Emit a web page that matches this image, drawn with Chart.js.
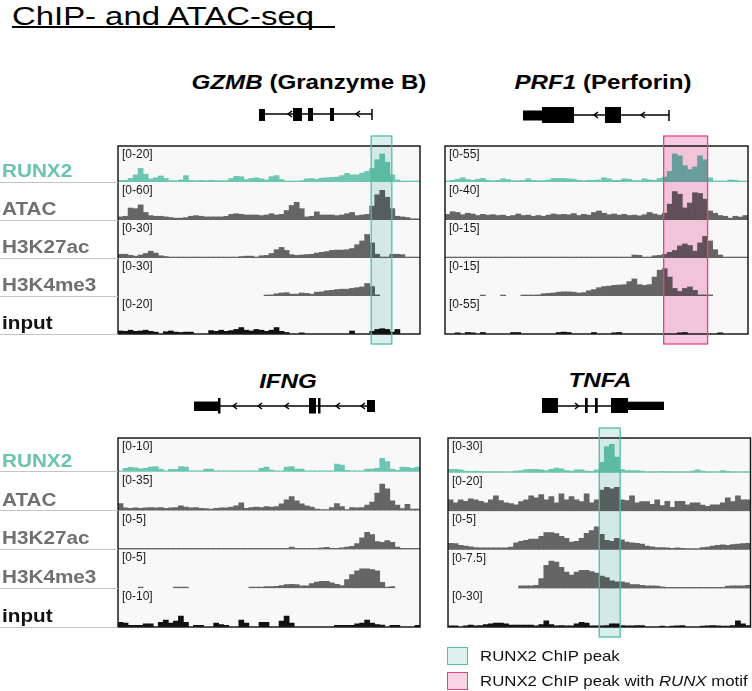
<!DOCTYPE html>
<html>
<head>
<meta charset="utf-8">
<script src="https://cdn.jsdelivr.net/npm/chart.js@4.4.1/dist/chart.umd.min.js"></script>
<style>
  body { margin: 0; background: #fff; font-family: Arial, "Liberation Sans", sans-serif; }
  #fig { position: relative; width: 752px; height: 691px; overflow: hidden; }
  .abs { position: absolute; }
  .wide { white-space: nowrap; transform-origin: 0 50%; transform: scaleX(1.15); }
  .title { position: absolute; width: 320px; text-align: center; font-weight: bold; font-size: 21px;
           line-height: 24px; white-space: nowrap; transform: scaleX(1.15); }
  .trk { position: absolute; left: 2px; font-weight: bold; font-size: 18px; line-height: 18px;
         white-space: nowrap; transform-origin: 0 50%; transform: scaleX(1.15); }
  .rng { position: absolute; font-size: 12px; line-height: 13px; color: #1a1a1a; white-space: nowrap; }
  .sep { position: absolute; left: 0; height: 1px; background: #c4c4c4; }
</style>
</head>
<body>
<div id="fig">
  <div class="abs wide" style="left:12px;top:0px;font-size:26.5px;line-height:32px;transform:scaleX(1.24);">ChIP- and ATAC-seq</div>
  <div class="abs" style="left:12px;top:26px;width:323px;height:1.5px;background:#000;"></div>

  <div class="title" style="left:149px;top:70px;"><i>GZMB</i> (Granzyme B)</div>
  <div class="title" style="left:443px;top:70px;"><i>PRF1</i> (Perforin)</div>
  <div class="title" style="left:128px;top:369px;"><i>IFNG</i></div>
  <div class="title" style="left:440px;top:368px;"><i>TNFA</i></div>

  <svg class="abs" style="left:0;top:0" width="752" height="691">
    <g fill="#000" stroke="#000" stroke-width="1.5">
      <!-- GZMB -->
      <line x1="262" y1="114" x2="372" y2="114"/>
      <rect x="259" y="109" width="6" height="12" stroke="none"/>
      <polyline points="292,111 288,114 292,117" fill="none"/>
      <rect x="293" y="108" width="9" height="13" stroke="none"/>
      <rect x="308" y="108" width="5" height="13" stroke="none"/>
      <rect x="330" y="108" width="4" height="13" stroke="none"/>
      <polyline points="360,111 356,114 360,117" fill="none"/>
      <line x1="372" y1="109" x2="372" y2="120"/>
      <!-- PRF1 -->
      <line x1="560" y1="115" x2="669" y2="115"/>
      <rect x="523" y="110.5" width="20" height="10" stroke="none"/>
      <rect x="542" y="107" width="32" height="16" stroke="none"/>
      <polyline points="598,112 594,115 598,118" fill="none"/>
      <rect x="605" y="107" width="16" height="16" stroke="none"/>
      <polyline points="645,112 641,115 645,118" fill="none"/>
      <line x1="669" y1="110" x2="669" y2="121"/>
      <!-- IFNG -->
      <line x1="200" y1="406" x2="372" y2="406"/>
      <rect x="194" y="401.5" width="24" height="9.5" stroke="none"/>
      <rect x="218" y="398" width="2.5" height="15.5" stroke="none"/>
      <polyline points="237,403 233,406 237,409" fill="none"/>
      <polyline points="262,403 258,406 262,409" fill="none"/>
      <polyline points="289,403 285,406 289,409" fill="none"/>
      <rect x="309" y="398" width="7" height="15.5" stroke="none"/>
      <rect x="318" y="398" width="2.5" height="15.5" stroke="none"/>
      <polyline points="340,403 336,406 340,409" fill="none"/>
      <polyline points="365,403 361,406 365,409" fill="none"/>
      <rect x="367" y="400" width="8" height="12" stroke="none"/>
      <!-- TNFA -->
      <line x1="556" y1="406" x2="640" y2="406"/>
      <rect x="542" y="398" width="16" height="15" stroke="none"/>
      <polyline points="575,403 578.5,406 575,409" fill="none"/>
      <rect x="585" y="398" width="2.7" height="15" stroke="none"/>
      <rect x="595" y="398" width="2.7" height="15" stroke="none"/>
      <rect x="611" y="398" width="17" height="15" stroke="none"/>
      <rect x="628" y="401.7" width="36" height="8.3" stroke="none"/>
    </g>
  </svg>

  <div id="p1" class="abs" style="left:108px;top:126px;"><canvas id="c1" width="322" height="230"></canvas></div>
  <div id="p2" class="abs" style="left:435px;top:126px;"><canvas id="c2" width="317" height="230"></canvas></div>
  <div id="p3" class="abs" style="left:108px;top:418px;"><canvas id="c3" width="322" height="230"></canvas></div>
  <div id="p4" class="abs" style="left:438px;top:418px;"><canvas id="c4" width="314" height="230"></canvas></div>

  <div class="abs" style="left:447px;top:647px;width:19px;height:16px;background:#def1ee;border:1.5px solid #55bda4;"></div>
  <div class="abs wide" style="left:480px;top:646px;font-size:15px;line-height:20px;color:#111;transform:scaleX(1.12);">RUNX2 ChIP peak</div>
  <div class="abs" style="left:447px;top:672px;width:19px;height:16px;background:#fad5e5;border:1.5px solid #e6447f;"></div>
  <div class="abs wide" style="left:480px;top:671px;font-size:15px;line-height:20px;color:#111;transform:scaleX(1.12);">RUNX2 ChIP peak with <i>RUNX</i> motif</div>
</div>

<script>
// genomic bins (60 per locus)
const bins = Array.from({length: 60}, (_, i) => i);
const trackNames = ['RUNX2', 'ATAC', 'H3K27ac', 'H3K4me3', 'input'];
const trackColors = ['#6cc6b1', '#656565', '#656565', '#656565', '#111111'];
const nameColors = ['#6cc4ae', '#707070', '#707070', '#707070', '#111111'];

// GZMB locus
const gzmbRanges = [20, 60, 30, 30, 20];
const gzmbRunx2 = [1,1,2,4,7.6,4.4,1.8,2.4,3.4,2, 0.8,0.8,1.2,3.6,1,0.8,1,0.8,1,0.8,
  0.8,0.8,2,3.2,3,1.4,2,2.4,1.8,1.2, 3,3.6,1.4,0.6,0.6,0.6,0.8,1.8,2,1.6,
  2.2,2.4,2.6,2.8,3.6,4.8,4,4,5,6, 7.6,12.4,15.6,11,4,1.2,0.6,0.6,0.6,0.6];
const gzmbAtac = [5,6,19,18,24,12,7,6,6,5, 4,3,3,4,6,7,6,5,5,5,
  5,6,9,10,9,8,8,8,7,8, 10,8,9,15,23,28,18,5,6,13,
  8,8,8,7,8,10,12,7,8,9, 22,40,47,36,18,6,5,4,2,2];
const gzmbK27ac = [3,3,2.1,1.5,2.4,3.6,5.4,3.9,1.8,1.2, 0.3,0.3,0.3,0.3,0.3,0.3,0.3,0.3,0.3,0.3,
  0.3,0.3,0.3,0.3,1.2,1.5,1.5,0.3,1.8,2.1, 3.6,6.6,8.4,6,2.7,2.1,2.4,2.7,3,3.9,
  4.5,5.1,6,6.3,6.3,6.6,7.5,10.5,13.5,18.6, 12,3,0.6,0.6,3,3,2.7,0.3,0.3,0.3];
const gzmbK4me3 = [null,null,null,null,null,null,null,null,null,null, null,null,null,null,null,null,null,null,null,null,
  null,null,null,null,null,null,null,null,null,0.6, 0.9,1.8,2.4,2.7,1.5,1.5,2.4,2.1,1.5,3,
  3.3,4.2,4.5,5.1,5.4,5.4,6,6.6,7.2,9.9, 7.5,0.9,null,null,null,null,null,null,null,null];
const gzmbInput = [1.6,1.4,2,1.4,1.6,2,1.4,1,null,1.2, 1.6,1,0.8,1,1,null,null,null,1.8,1.4,
  2,1.4,1.8,2.4,3.4,2,1.6,2.4,2,1.4, 2,3.4,1.4,0.8,null,null,0.6,null,null,null,
  null,null,null,null,null,null,1.6,null,null,null, 1.4,2.4,2.8,2.4,1,2.4,null,null,null,null];
const gzmbPeak = [50.3, 54.4];

// PRF1 locus
const prf1Ranges = [55, 40, 15, 15, 55];
const prf1Runx2 = [1.7,2.8,4.4,6.6,3.9,2.8,4.4,5.5,2.8,2.2, 2.8,5,3.9,2.2,2.2,2.8,5,2.8,2.2,2.2,
  3.3,5.5,5.5,5.5,5,4.4,2.8,2.2,2.8,2.8, 3.3,6.6,5,2.8,2.8,5,4.4,2.2,2.2,5,
  3.3,2.8,5.5,7.7,16.5,43,40,25,19,23, 40,34,6.6,1.7,1.7,1.7,3.3,2.8,1.7,1.7];
const prf1Atac = [6,8.8,8,5.6,7.2,6.4,4.8,6,5.2,5.6, 4.8,5.2,4,4.8,6.4,4.8,5.2,4,4.8,4,
  5.2,6.4,5.6,6,5.6,6.8,4.8,6,5.2,8, 9.6,7.2,5.6,6.4,5.2,6,4.8,5.2,4.4,5.6,
  8,6.4,5.2,7.2,16.8,30,27.2,12.8,18,28.8, 28,22,9.6,7.2,4.8,4,2,4,3.2,4.8];
const prf1K27ac = [0.15,0.15,0.15,0.15,0.15,0.15,0.15,0.15,0.15,0.15, 0.15,0.15,0.15,0.15,0.15,0.15,0.15,0.15,0.15,0.15,
  0.15,0.15,0.15,0.15,0.15,0.15,0.15,0.15,0.15,0.15, 0.15,0.15,0.15,0.15,0.15,0.15,0.15,1.2,1.05,0.15,
  0.3,0.9,1.05,1.5,2.25,3,4.8,5.55,4.95,2.7, 6,8.55,6.75,3.3,1.2,0.15,0.15,0.15,0.15,0.15];
const prf1K4me3 = [null,null,null,null,null,null,null,0.3,null,null, null,0.3,null,null,null,0.3,0.3,0.3,0.45,0.9,
  1.05,1.2,1.5,1.65,1.65,1.5,1.2,1.35,2.1,2.55, 3.3,3.75,3.9,4.2,4.35,4.5,5.7,6.75,4.5,4.2,
  4.5,7.5,10.2,10.8,7.5,3,1.8,3,3.6,2.25, 0.45,0.45,0.45,null,null,null,null,null,null,null];
const prf1Input = [null,null,1.7,null,2.2,1.7,null,2.2,null,null, null,null,null,2.2,2.2,null,null,null,null,null,
  null,null,2.2,2.8,2.2,null,null,null,null,2.2, null,null,null,1.7,2.2,null,null,null,null,null,
  null,null,null,null,null,null,1.7,2.2,null,null, null,null,null,null,1.7,null,null,null,null,null];
const prf1Peak = [43.3, 52.0];

// IFNG locus
const ifngRanges = [10, 35, 5, 5, 10];
const ifngRunx2 = [0.2,1,1.3,1.2,0.9,1,1.4,1.5,0.8,0.3, 0.7,0.7,1.5,1.4,0.2,0.2,0.2,0.8,0.8,0.2,
  0.2,0.2,0.2,0.2,0.2,0.2,0.2,0.2,1,1.4, 0.5,0.2,0.2,1.4,1.5,0.8,0.8,0.3,0.2,0.2,
  0.2,0.2,0.2,2.3,2,0.4,0.2,0.2,0.2,0.8, 0.8,1,4,3,0.8,0.4,1.4,1.3,1,1.4];
const ifngAtac = [6.3,2.5,2.1,2.5,2.1,2.5,2.8,2.5,2.8,2.1, 2.5,2.8,4.2,3.2,2.5,2.8,2.1,1.8,1.4,2.1,
  2.5,2.5,3.2,4.2,7,2.1,2.8,3.2,2.8,3.5, 3.2,3.5,6,9.8,12.6,8.8,6,4.2,3.2,1.4,
  0.7,0.7,2.8,6.3,3.5,1,2.8,2.5,2.8,4.9, 7.7,15.8,23.8,19.6,8.8,4.9,1.8,5.6,1.4,1.4];
const ifngK27ac = [0.05,0.05,0.05,0.05,0.05,0.05,0.05,0.05,0.05,0.05, 0.05,0.05,0.05,0.05,0.05,0.05,0.05,0.05,0.05,0.05,
  0.05,0.05,0.05,0.05,0.05,0.05,0.05,0.05,0.05,0.05, 0.05,0.05,0.05,0.05,0.3,0.05,0.05,0.05,0.05,0.05,
  0.2,0.25,0.05,0.05,0.2,0.3,0.4,0.75,1.5,2.2, 1.9,1,0.9,1.15,0.9,0.3,0.05,0.05,0.05,0.05];
const ifngK4me3 = [null,null,null,null,0.1,null,null,null,null,null, null,0.1,0.15,0.1,null,null,null,null,null,null,
  null,null,null,null,null,null,0.15,0.15,0.15,0.2, 0.2,0.25,0.35,0.45,0.5,0.45,0.3,0.3,0.6,0.8,
  0.9,0.9,0.7,0.5,0.35,1.1,1.75,2.25,2.5,2.5, 2.4,2.25,0.75,0.15,0.2,null,null,null,null,null];
const ifngInput = [1.2,1,0.4,0.4,0.4,0.8,0.8,null,1.2,1.8, 1,1.5,2.8,1.2,null,0.4,0.4,null,null,1,
  0.6,0.4,null,null,1.8,1,null,null,1.2,1.2, null,null,1.5,2.8,1,null,null,null,null,null,
  null,null,null,0.4,0.4,0.4,0.4,0.8,1,1.8, 1,0.6,0.5,null,0.4,0.4,null,null,null,0.4];

// TNFA locus
const tnfaRanges = [30, 20, 5, 7.5, 30];
const tnfaRunx2 = [3,3,2.4,1.5,1.2,1.5,1.2,0.9,0.9,0.9, 0.9,0.9,0.9,1.5,1.8,2.7,3,3,2.4,1.8,
  3,3.9,3.3,1.8,1.5,2.4,2.4,1.5,1.2,2.4, 9,22.5,24.6,13.5,3,1.8,1.8,1.8,1.5,0.9,
  0.9,0.9,1.2,0.9,0.9,0.9,0.9,0.9,1.5,2.4, 1.5,0.9,0.9,0.9,1.8,1.2,0.9,0.9,0.9,0.9];
const tnfaAtac = [6,4.4,6,5.2,6.4,6,5.2,4.4,6,8, 5.6,4.4,4,3.4,5,6,8,7,8.6,6,
  7.6,4.4,9,6,7.6,6,5,9,4.4,6, 11,12.4,11.6,12.4,6,5.6,8,4.4,5,5,
  3.6,6,3,5.2,2,5.2,5.2,3.4,4.4,4.4, 3.2,2.6,3.4,3.4,4.4,7,5,8,6,6];
const tnfaK27ac = [0.85,0.8,0.6,0.5,0.4,0.3,0.25,0.25,0.25,0.25, 0.25,0.25,0.35,0.9,1.1,1.25,1.4,1.4,1.75,2.25,
  2.25,2.1,1.75,1.5,1,1.1,1.5,2.15,2.5,3, 2,1.25,1.1,1.5,1.3,1,0.9,0.85,0.75,0.5,
  0.4,0.3,0.3,0.25,0.2,0.25,0.2,0.15,0.15,0.15, 0.3,0.35,0.5,0.6,0.65,0.6,0.7,0.75,0.8,0.85];
const tnfaK4me3 = [null,null,null,null,null,null,null,null,null,null, null,null,null,null,0.5,0.5,0.5,0.6,1.9,4.5,
  5.3,5.1,4.1,3.2,2.6,3.2,3.5,3.5,3.3,3, 2.4,2.1,1.5,1.3,1.3,1.1,0.75,0.75,0.6,0.5,
  0.5,0.45,0.3,0.2,0.15,0.15,0.15,0.15,0.15,0.15, 0.15,0.15,0.15,0.15,0.15,0.45,0.5,0.5,0.5,0.6];
const tnfaInput = [0.9,0.9,null,0.9,1.5,0.9,1.2,1.8,2.4,3, 3,2.4,1.5,1.5,1.5,1.5,1.5,0.9,1.8,4.8,
  1.8,0.9,1.2,0.9,0.9,2.4,3.6,3,0.9,0.9, 0.9,1.2,2.4,2.4,1.2,0.9,0.9,1.2,1.2,null,
  null,null,0.6,null,0.6,0.9,1.2,null,null,null, 0.6,0.9,1.2,0.9,0.6,0.6,1.2,4.8,2.4,1.2];
const tnfaPeak = [30.0, 34.15];

// peak boxes are laid over the tracks with a multiply blend, like a translucent marker
const peakStyles = {
  teal: {fill: 'rgb(216, 240, 235)', stroke: '#55bda4'},
  pink: {fill: 'rgb(248, 202, 224)', stroke: '#e6447f'}
};

function makePanel(canvasId, boxId, tracks, ranges, padding, firstWeight, peak, peakKind, withNames) {
  const scales = {x: {display: false, offset: true}};
  tracks.forEach((d, i) => {
    scales['t' + i] = {
      type: 'linear', position: 'left', stack: 'tracks', stackWeight: i === 0 ? firstWeight : 1,
      weight: 10 - i, min: 0, max: ranges[i], offset: false,
      grid: {display: false}, ticks: {display: false}, border: {display: false}
    };
  });

  const frame = {
    id: 'frame',
    beforeDraw(chart) {
      const a = chart.chartArea, ctx = chart.ctx;
      ctx.save();
      ctx.fillStyle = '#f9f8f9';
      ctx.fillRect(a.left, a.top, a.right - a.left, a.bottom - a.top);
      ctx.restore();
    },
    afterDraw(chart) {
      const a = chart.chartArea, ctx = chart.ctx;
      ctx.save();
      ctx.strokeStyle = '#1c1c1c';
      ctx.lineWidth = 1.5;
      ctx.strokeRect(a.left, a.top, a.right - a.left, a.bottom - a.top);
      if (peak) {
        const x = chart.scales.x;
        const x0 = x.getPixelForValue(peak[0] - 0.5), x1 = x.getPixelForValue(peak[1] - 0.5);
        const st = peakStyles[peakKind];
        ctx.globalCompositeOperation = 'multiply';
        ctx.fillStyle = st.fill;
        ctx.fillRect(x0, a.top - 10, x1 - x0, a.bottom - a.top + 20);
        ctx.globalCompositeOperation = 'source-over';
        ctx.strokeStyle = st.stroke;
        ctx.lineWidth = 1.3;
        ctx.strokeRect(x0, a.top - 10, x1 - x0, a.bottom - a.top + 20);
      }
      ctx.restore();
    }
  };

  const chart = new Chart(document.getElementById(canvasId), {
    type: 'bar',
    data: {
      labels: bins,
      datasets: tracks.map((d, i) => ({
        data: d, yAxisID: 't' + i, xAxisID: 'x',
        backgroundColor: trackColors[i], borderWidth: 0,
        barPercentage: 1, categoryPercentage: 1, grouped: false, minBarLength: 1
      }))
    },
    options: {
      responsive: false, animation: false, events: [],
      layout: {padding: padding},
      plugins: {legend: {display: false}, tooltip: {enabled: false}},
      scales: scales
    },
    plugins: [frame]
  });

  // overlay range labels and track names as text
  const box = document.getElementById(boxId);
  const bx = parseFloat(box.style.left), by = parseFloat(box.style.top);
  const fig = document.getElementById('fig');
  tracks.forEach((d, i) => {
    const s = chart.scales['t' + i];
    const r = document.createElement('div');
    r.className = 'rng';
    r.textContent = '[0-' + ranges[i] + ']';
    r.style.left = (bx + chart.chartArea.left + 4) + 'px';
    r.style.top = (by + s.top + 2) + 'px';
    fig.appendChild(r);
    if (withNames) {
      const yb = by + s.bottom;
      const line = document.createElement('div');
      line.className = 'sep';
      line.style.top = (yb - 0.5) + 'px';
      line.style.width = (bx + chart.chartArea.left) + 'px';
      fig.appendChild(line);
      const t = document.createElement('div');
      t.className = 'trk';
      t.textContent = trackNames[i];
      t.style.color = nameColors[i];
      t.style.top = (yb - 20) + 'px';
      fig.appendChild(t);
    }
  });
  return chart;
}

makePanel('c1', 'p1', [gzmbRunx2, gzmbAtac, gzmbK27ac, gzmbK4me3, gzmbInput], gzmbRanges,
  {left: 2, right: 10, top: 20, bottom: 22}, 0.95, gzmbPeak, 'teal', true);
makePanel('c2', 'p2', [prf1Runx2, prf1Atac, prf1K27ac, prf1K4me3, prf1Input], prf1Ranges,
  {left: 2, right: 4, top: 20, bottom: 22}, 0.95, prf1Peak, 'pink', false);
makePanel('c3', 'p3', [ifngRunx2, ifngAtac, ifngK27ac, ifngK4me3, ifngInput], ifngRanges,
  {left: 2, right: 10, top: 20, bottom: 21}, 0.87, null, null, true);
makePanel('c4', 'p4', [tnfaRunx2, tnfaAtac, tnfaK27ac, tnfaK4me3, tnfaInput], tnfaRanges,
  {left: 2, right: 1.5, top: 20, bottom: 21}, 0.9, tnfaPeak, 'teal', false);
</script>
</body>
</html>
